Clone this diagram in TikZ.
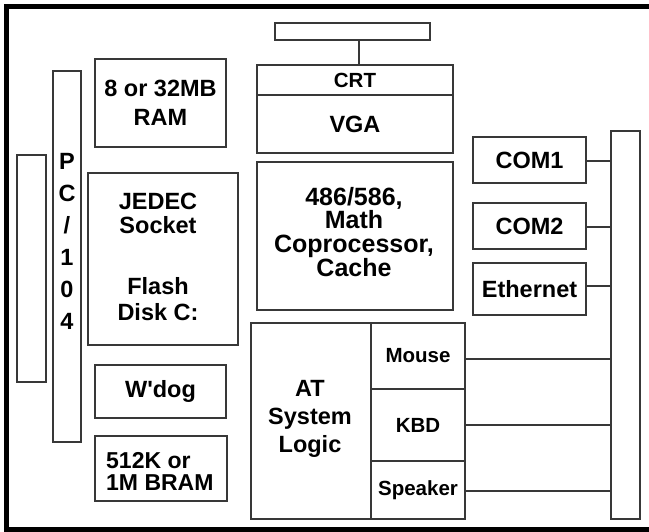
\documentclass[tikz,border=0pt]{standalone}
\usepackage{fontspec}
\setmainfont{Liberation Sans}
\begin{document}
\begin{tikzpicture}[x=1pt,y=-1pt,
  bx/.style={draw=black!78, line width=1.3pt, inner sep=0pt, align=center,
    font=\bfseries\fontsize{23.5}{28}\selectfont},
  sm/.style={font=\bfseries\fontsize{20.5}{24}\selectfont},
  txt/.style={inner sep=0pt, align=center},
  wire/.style={draw=black!78, line width=1.3pt}]
\useasboundingbox (0,0) rectangle (649,532);
\clip (0,0) rectangle (649,532);
\draw[line width=5pt] (6.5,6.5) rectangle (680,529.5);
% VGA / CRT
\node[bx, minimum width=155pt, minimum height=17pt] (topbar) at (352.5,31.5) {};
\node[bx, sm, minimum width=196pt, minimum height=30pt] (crt) at (355,80) {CRT};
\node[bx, minimum width=196pt, minimum height=58pt] (vga) at (355,124) {VGA};
% CPU
\node[bx, minimum width=196pt, minimum height=148pt] (cpu) at (355,236) {};
\node[txt, font=\bfseries\fontsize{25}{23.3}\selectfont] (cputxt) at (354,232) {486/586,\\Math\\Coprocessor,\\Cache};
% RAM
\node[bx, minimum width=131pt, minimum height=88pt, font=\bfseries\fontsize{23.5}{28.5}\selectfont] (ram) at (160.5,103) {8 or 32MB\\RAM};
% PC/104
\node[bx, minimum width=28pt, minimum height=371pt] (pc104) at (67,256.5) {};
\node[txt, font=\bfseries\fontsize{23.5}{32}\selectfont] (pctxt) at (67,241) {P\\C\\/\\1\\0\\4};
\node[bx, minimum width=29pt, minimum height=227pt] (leftbar) at (31.5,268.5) {};
% JEDEC
\node[bx, minimum width=150pt, minimum height=172pt] (jedec) at (163,259) {};
\node[txt, font=\bfseries\fontsize{23.5}{24.5}\selectfont] (jedectxt) at (158,213.5) {JEDEC\\Socket};
\node[txt, font=\bfseries\fontsize{23.5}{26}\selectfont] (flashtxt) at (158,299.5) {Flash\\Disk C:};
% W'dog, BRAM
\node[bx, minimum width=131pt, minimum height=53pt] (wdog) at (160.5,391.5) {W\textquotesingle dog};
\node[bx, minimum width=132pt, minimum height=65pt] (bram) at (161,468.5) {};
\node[txt, anchor=west, align=left, font=\bfseries\fontsize{23}{22.5}\selectfont] (bramtxt) at (106,471.5) {512K or\\1M BRAM};
% AT system logic
\node[bx, minimum width=120pt, minimum height=196pt] (at) at (311,421) {};
\node[txt, font=\bfseries\fontsize{23.5}{28}\selectfont] (attxt) at (310,419) {AT\\System\\Logic};
\node[bx, sm, minimum width=94pt, minimum height=66pt] (mouse) at (418,356) {Mouse};
\node[bx, sm, minimum width=94pt, minimum height=72pt] (kbd) at (418,425) {KBD};
\node[bx, sm, minimum width=94pt, minimum height=58pt] (spk) at (418,490) {Speaker};
% COM / Ethernet
\node[bx, minimum width=113pt, minimum height=46pt] (com1) at (529.5,160) {COM1};
\node[bx, minimum width=113pt, minimum height=46pt] (com2) at (529.5,226) {COM2};
\node[bx, minimum width=113pt, minimum height=52pt] (eth) at (529.5,289) {Ethernet};
\node[bx, minimum width=29pt, minimum height=388pt] (rbar) at (625.5,325) {};
% wires
\draw[wire] ([xshift=6.5pt]topbar.south) -- ([xshift=6.5pt]topbar.south |- crt.north);
\draw[wire] ([yshift=-1pt]com1.east) -- ([yshift=-1pt]com1.east -| rbar.west);
\draw[wire] ([yshift=-1pt]com2.east) -- ([yshift=-1pt]com2.east -| rbar.west);
\draw[wire] ([yshift=3pt]eth.east) -- ([yshift=3pt]eth.east -| rbar.west);
\draw[wire] ([yshift=-3pt]mouse.east) -- ([yshift=-3pt]mouse.east -| rbar.west);
\draw[wire] (kbd.east) -- (kbd.east -| rbar.west);
\draw[wire] ([yshift=-1pt]spk.east) -- ([yshift=-1pt]spk.east -| rbar.west);
\end{tikzpicture}
\end{document}
